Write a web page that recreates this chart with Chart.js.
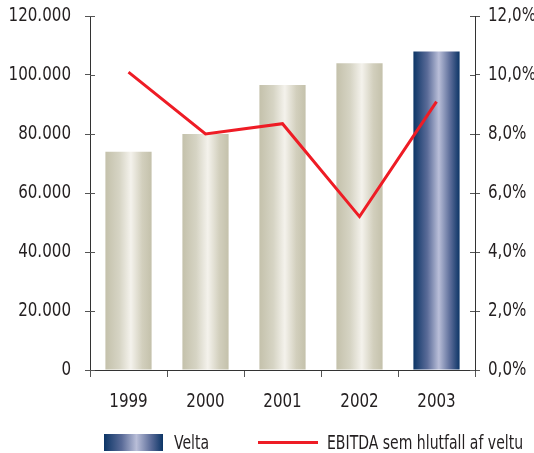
<!DOCTYPE html>
<html>
<head>
<meta charset="utf-8">
<script src="https://cdn.jsdelivr.net/npm/chart.js@4.4.1/dist/chart.umd.min.js"></script>
<style>
  body { margin: 0; background: #fff; }
  #wrap { position: relative; width: 534px; height: 453px; }
  #legend { position: absolute; left: 0; top: 430px; width: 534px; height: 24px;
    font-family: "DejaVu Sans Condensed", "DejaVu Sans", sans-serif; font-size: 20px; color: #231f20; }
  .sw { position: absolute; top: 4px; width: 59px; height: 17px;
    background: linear-gradient(to right, #0c3566 0%, #5a6b98 30%, #b9bed8 55%, #5a6b98 80%, #0c3566 100%); }
  .ln { position: absolute; top: 11px; width: 60px; height: 3px; background: #ee1c25; }
  .lb { position: absolute; top: 0; line-height: 24px; white-space: nowrap; transform-origin: 0 50%; transform: scaleX(0.78); }
</style>
</head>
<body>
<div id="wrap">
  <canvas id="chart" width="534" height="453"></canvas>
  <div id="legend">
    <div class="sw" style="left:104px"></div>
    <div class="lb" style="left:174px">Velta</div>
    <div class="ln" style="left:258px"></div>
    <div class="lb" style="left:327px">EBITDA sem hlutfall af veltu</div>
  </div>
</div>
<script>
const years = ["1999", "2000", "2001", "2002", "2003"];
const velta = [74000, 80000, 96600, 104000, 108000];
const ebitdaPct = [10.1, 8.0, 8.35, 5.2, 9.1];

const beige = ["#c4c1ab", "#d6d4c4", "#f4f2ec", "#d2cfbd", "#c4c1ab"];
const blue = ["#0c3566", "#5a6b98", "#b9bed8", "#5a6b98", "#0c3566"];

const fontFam = '"DejaVu Sans Condensed", "DejaVu Sans", sans-serif';
const ink = "#231f20";

function barFill(ctx) {
  const chart = ctx.chart;
  const xs = chart.scales.x;
  if (!xs || !chart.chartArea) return beige[0];
  const cx = xs.getPixelForValue(ctx.dataIndex);
  const w = (chart.chartArea.right - chart.chartArea.left) / years.length * 0.6;
  const g = chart.ctx.createLinearGradient(cx - w / 2, 0, cx + w / 2, 0);
  const cols = ctx.dataIndex === years.length - 1 ? blue : beige;
  const stops = [0, 0.3, 0.55, 0.8, 1];
  stops.forEach((s, i) => g.addColorStop(s, cols[i]));
  return g;
}

const canvas = document.querySelector("#chart");

// squeeze the text a bit, the original uses a condensed face
const c2d = canvas.getContext("2d");
const origFill = c2d.fillText.bind(c2d);
c2d.fillText = function (text, x, y, maxW) {
  this.save();
  this.translate(x, y);
  this.scale(0.84, 1);
  origFill(text, 0, 0);
  this.restore();
};

// tick marks cross the axes in the original
const crossTicks = {
  id: "crossTicks",
  afterDraw(chart) {
    const ctx = chart.ctx;
    const { y, y1 } = chart.scales;
    ctx.save();
    ctx.strokeStyle = "#555";
    ctx.lineWidth = 1;
    ctx.beginPath();
    y.ticks.forEach((t) => {
      const py = Math.round(y.getPixelForValue(t.value)) + 0.5;
      ctx.moveTo(y.right, py);
      ctx.lineTo(y.right + 5, py);
    });
    y1.ticks.forEach((t) => {
      const py = Math.round(y1.getPixelForValue(t.value)) + 0.5;
      ctx.moveTo(y1.left, py);
      ctx.lineTo(y1.left - 5, py);
    });
    ctx.stroke();
    ctx.restore();
  },
};

const noPad = (s) => { s.paddingTop = 0; s.paddingBottom = 0; };

new Chart(canvas, {
  type: "bar",
  data: {
    labels: years,
    datasets: [
      {
        type: "line",
        label: "EBITDA sem hlutfall af veltu",
        data: ebitdaPct,
        yAxisID: "y1",
        borderColor: "#ee1c25",
        borderWidth: 3,
        pointRadius: 0,
        tension: 0,
        order: 0,
      },
      {
        label: "Velta",
        data: velta,
        yAxisID: "y",
        backgroundColor: barFill,
        barPercentage: 0.6,
        categoryPercentage: 1,
        order: 1,
      },
    ],
  },
  options: {
    responsive: false,
    animation: false,
    layout: { padding: { top: 16, bottom: 0, left: 0, right: 0 } },
    plugins: { legend: { display: false }, tooltip: { enabled: false } },
    scales: {
      x: {
        offset: true,
        grid: { offset: true, drawOnChartArea: false, drawTicks: true, tickLength: 7, color: "#555", lineWidth: 1 },
        border: { display: true, color: "#333", width: 1 },
        ticks: { color: ink, font: { family: fontFam, size: 20 }, padding: 13 },
        afterFit: (s) => { s.height = 83; },
      },
      y: {
        position: "left",
        min: 0,
        max: 120000,
        grid: { drawOnChartArea: false, drawTicks: true, tickLength: 5, color: "#555" },
        border: { display: true, color: "#333", width: 1 },
        ticks: {
          stepSize: 20000,
          color: ink,
          font: { family: fontFam, size: 20 },
          padding: 14,
          callback: (v) => v === 0 ? "0" : (v / 1000).toFixed(0) + ".000",
        },
        afterFit: (s) => { s.width = 90; noPad(s); },
      },
      y1: {
        position: "right",
        min: 0,
        max: 12,
        grid: { drawOnChartArea: false, drawTicks: true, tickLength: 5, color: "#555" },
        border: { display: true, color: "#333", width: 1 },
        ticks: {
          stepSize: 2,
          color: ink,
          font: { family: fontFam, size: 20 },
          padding: 8,
          callback: (v) => v.toFixed(1).replace(".", ",") + "%",
        },
        afterFit: (s) => { s.width = 59; noPad(s); },
      },
    },
  },
  plugins: [crossTicks],
});
</script>
</body>
</html>
